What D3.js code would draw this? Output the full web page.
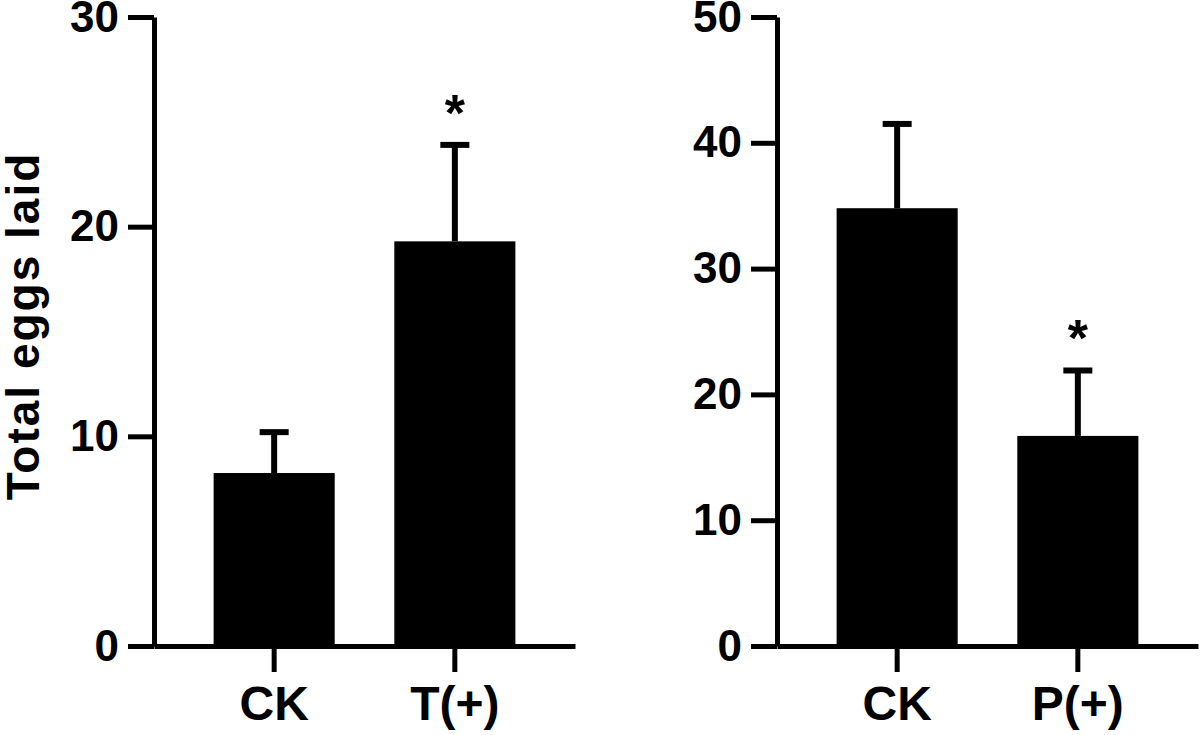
<!DOCTYPE html>
<meta charset="utf-8">
<script src="https://d3js.org/d3.v7.min.js"></script>
<style type="text/css">
body { margin: 0; background: #fff; }
svg { display: block; }
text { font-family: "Liberation Sans", Arial, Helvetica, sans-serif; font-weight: bold; fill: #000; }
.axis path, .axis line { stroke: #000; stroke-width: 5px; }
.axis .tick text { font-size: 44px; }
.xaxis .tick text { font-size: 48px; }
.bar { fill: #000; }
.errLine { stroke: #000; stroke-width: 6px; }
</style>
<body></body>
<script>

  // left panel
  const groupsA = ["CK", "T(+)"];
  const meansA = [8.25, 19.3];
  const errA = [1.95, 4.6];
  const sigA = [false, true];
  const ticksA = [0, 10, 20, 30];

  // right panel
  const groupsB = ["CK", "P(+)"];
  const meansB = [34.8, 16.7];
  const errB = [6.7, 5.2];
  const sigB = [false, true];
  const ticksB = [0, 10, 20, 30, 40, 50];

  const yLabel = "Total eggs laid";

  const outerWidth = 1200;
  const outerHeight = 735;
  const plotTop = 17, plotBottom = 646;
  const plotWidth = 421;
  const tickLen = 26;
  const capHalf = 14.5;

  const SVG = d3.select("body").append("svg")
    .attr("width", outerWidth)
    .attr("height", outerHeight);

  // Y AXIS LABEL
  SVG.append("text")
    .attr("transform", "translate(39," + 326 + ") rotate(-90)")
    .attr("text-anchor", "middle")
    .style("font-size", "46px")
    .style("letter-spacing", "2px")
    .text(yLabel);

  function drawPanel(left, groups, means, errs, sig, ticks) {
    const data = groups.map((g, i) => ({group: g, mean: means[i], err: errs[i], sig: sig[i]}));

    const g = SVG.append("g")
      .attr("transform", "translate(" + left + ",0)");

    const xScale = d3.scaleBand()
      .domain(groups)
      .range([0, plotWidth])
      .padding(0.33);

    const yScale = d3.scaleLinear()
      .domain([0, d3.max(ticks)])
      .range([plotBottom, plotTop]);

    // bars
    g.selectAll(".bar")
      .data(data).enter().append("rect")
      .attr("class", "bar")
      .attr("x", d => xScale(d.group))
      .attr("width", xScale.bandwidth())
      .attr("y", d => yScale(d.mean))
      .attr("height", d => yScale(0) - yScale(d.mean));

    // error bars (upper only)
    const cx = d => xScale(d.group) + xScale.bandwidth() / 2;
    g.selectAll(".errStem")
      .data(data).enter().append("line")
      .attr("class", "errLine")
      .attr("x1", cx).attr("x2", cx)
      .attr("y1", d => yScale(d.mean))
      .attr("y2", d => yScale(d.mean + d.err));

    g.selectAll(".errCap")
      .data(data).enter().append("line")
      .attr("class", "errLine")
      .attr("x1", d => cx(d) - capHalf).attr("x2", d => cx(d) + capHalf)
      .attr("y1", d => yScale(d.mean + d.err))
      .attr("y2", d => yScale(d.mean + d.err));

    // significance stars
    g.selectAll(".star")
      .data(data.filter(d => d.sig)).enter().append("text")
      .attr("class", "star")
      .attr("x", cx)
      .attr("y", d => yScale(d.mean + d.err) - 14)
      .attr("text-anchor", "middle")
      .style("font-size", "52px")
      .text("*");

    // axes
    const yAxis = d3.axisLeft(yScale)
      .tickValues(ticks)
      .tickSize(tickLen)
      .tickSizeOuter(0)
      .tickPadding(9)
      .tickFormat(d3.format("d"));

    const xAxis = d3.axisBottom(xScale)
      .tickSize(tickLen)
      .tickSizeOuter(0)
      .tickPadding(14);

    g.append("g")
      .attr("class", "axis xaxis")
      .attr("transform", "translate(0," + plotBottom + ")")
      .call(xAxis);

    g.append("g")
      .attr("class", "axis yaxis")
      .call(yAxis);

    g.selectAll(".axis .tick text").attr("fill", "#000");
  }

  drawPanel(154, groupsA, meansA, errA, sigA, ticksA);
  drawPanel(777, groupsB, meansB, errB, sigB, ticksB);

</script>
